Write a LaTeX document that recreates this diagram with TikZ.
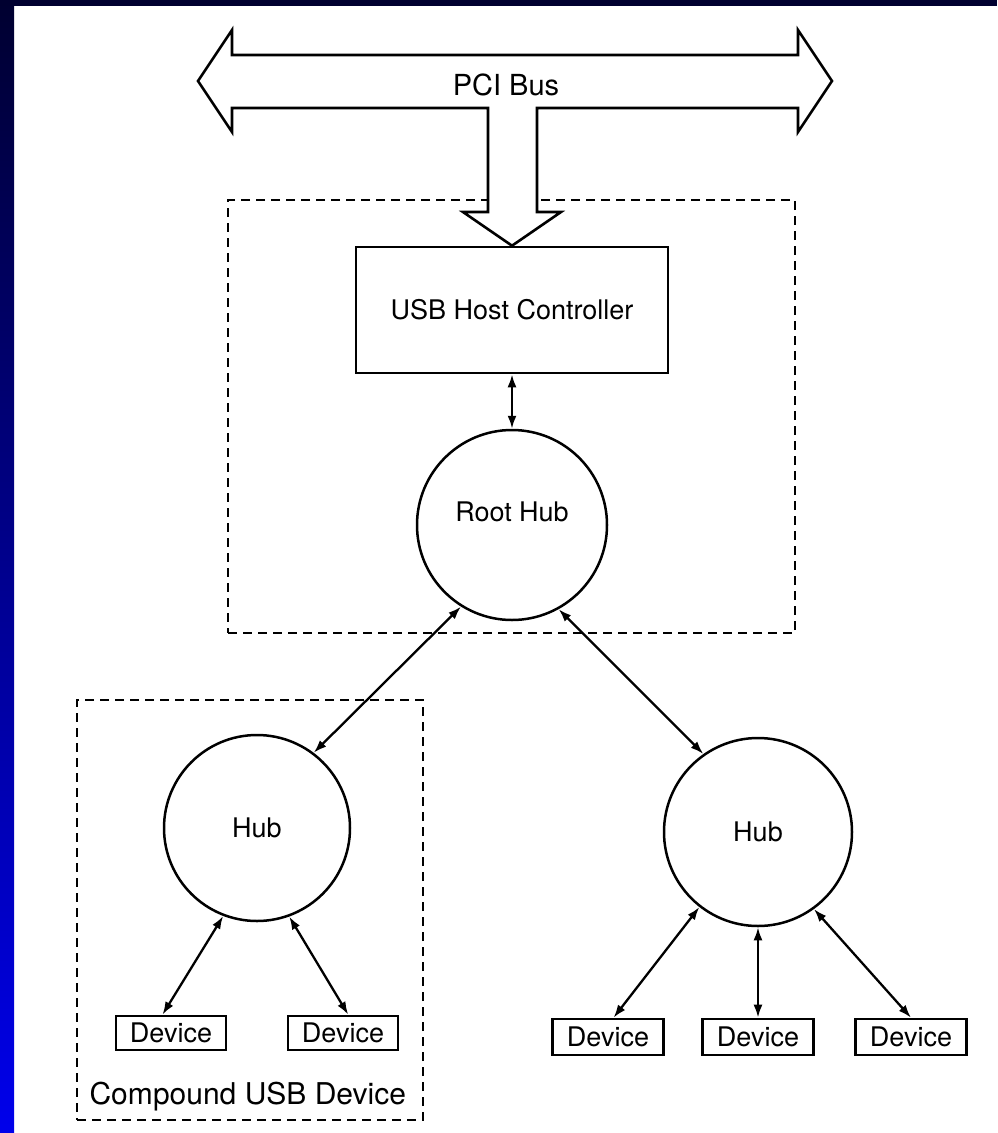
\documentclass[tikz,border=0pt]{standalone}
\usepackage{fontspec}
\setmainfont{TeX Gyre Heros}
\usetikzlibrary{arrows.meta,calc}
\definecolor{navyT}{RGB}{0,0,48}
\definecolor{blueB}{RGB}{0,0,235}
\begin{document}
\begin{tikzpicture}[x=1pt,y=-1pt,
  lbl/.style={font=\fontsize{27}{30}\selectfont},
  solidbox/.style={draw, line width=2.6pt, rectangle, inner sep=0pt},
  hubnode/.style={draw, circle, line width=2.5pt, minimum size=#1, inner sep=0pt, lbl},
  devbox/.style={draw, line width=2.6pt, minimum height=34pt, inner sep=0pt, lbl},
  groupbox/.style={draw, dash pattern=on 9pt off 6pt, line width=2.6pt, inner sep=0pt},
  link/.style={line width=2.3pt, {Latex[length=13pt,width=9pt]}-{Latex[length=13pt,width=9pt]}},
  busarrow/.style={draw, fill=white, line width=2.6pt, line join=miter},
]
\useasboundingbox (0,0) rectangle (997,1133);
% slide background
\fill[white] (0,0) rectangle (997,1133);
\shade[top color=navyT, bottom color=blueB] (0,0) rectangle (14,1133);
\fill[navyT] (0,0) rectangle (997,6);

% dashed group boxes
\node[groupbox, minimum width=567pt, minimum height=433pt] (host) at (511.5,416.5) {};
\node[groupbox, minimum width=346pt, minimum height=420pt] (compound) at (250,910) {};

% host controller
\node[solidbox, minimum width=312pt, minimum height=126pt, lbl] (usb) at (512,310) {USB Host Controller};

% PCI bus arrow
\draw[busarrow] (198,81) -- (232,30) -- (232,55) -- (798,55) -- (798,30) -- (832,81)
  -- (798,132) -- (798,108) -- (537,108) -- (537,212) -- (561,212) -- (usb.north)
  -- (463,212) -- (488,212) -- (488,108) -- (232,108) -- (232,132) -- cycle;
\node[lbl, font=\fontsize{29}{32}\selectfont] (pci) at (506,85) {PCI Bus};

% hubs
\node[hubnode=190pt, label={[lbl, yshift=13pt]center:Root Hub}] (root) at (512,525) {};
\node[hubnode=186pt] (hubL) at (257,828) {Hub};
\node[hubnode=188pt] (hubR) at (758,832) {Hub};

% devices
\node[devbox, minimum width=110pt] (dL1) at (171,1033) {Device};
\node[devbox, minimum width=110pt] (dL2) at (343,1033) {Device};
\node[devbox, minimum width=111pt, minimum height=36pt] (dR1) at (608,1037) {Device};
\node[devbox, minimum width=111pt, minimum height=36pt] (dR2) at (758,1037) {Device};
\node[devbox, minimum width=111pt, minimum height=36pt] (dR3) at (911,1037) {Device};

\node[lbl, font=\fontsize{30}{34}\selectfont, anchor=west] (cmp) at (86,1097) {Compound USB Device};

% connectors
\draw[link] (usb.south) -- (root.north);
\draw[link] (root.-122) -- (hubL.53);
\draw[link] (root.-61) -- (hubR.125);
\draw[link] (hubL.-111) -- (dL1.115);
\draw[link] (hubL.-70) -- (dL2.74);
\draw[link] (hubR.-128) -- (dR1.74);
\draw[link] (hubR.south) -- (dR2.north);
\draw[link] (hubR.-54) -- (dR3.north);
\end{tikzpicture}
\end{document}
